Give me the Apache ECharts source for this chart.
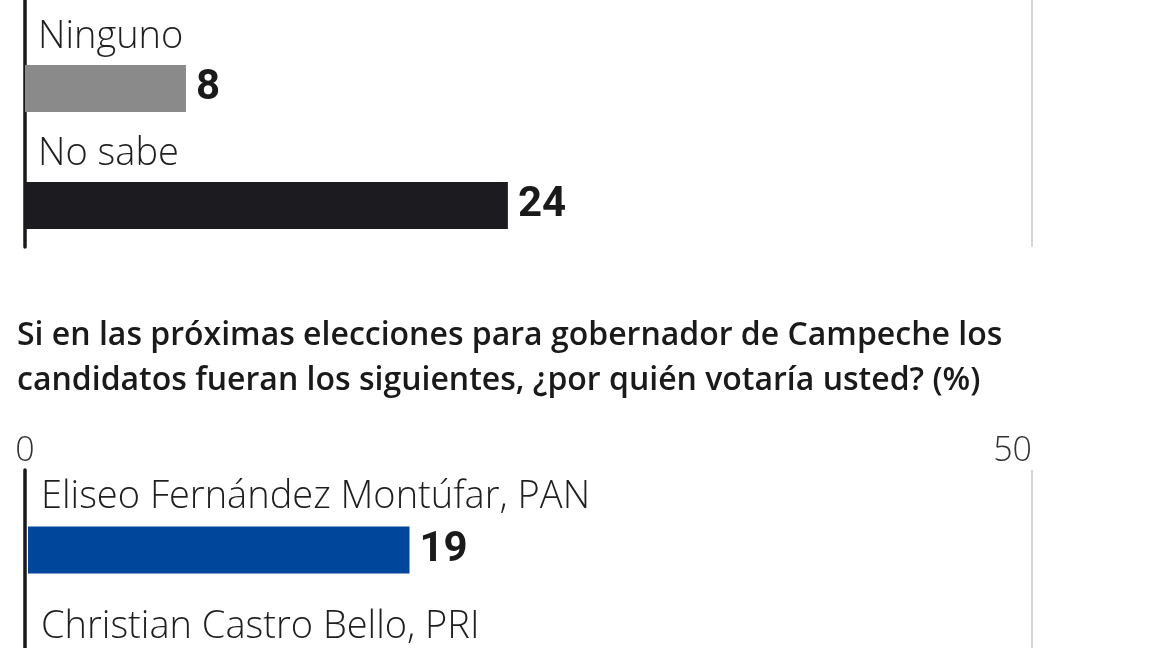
<!DOCTYPE html>
<html>
<head>
<meta charset="utf-8">
<script src="https://cdn.jsdelivr.net/npm/echarts@6/dist/echarts.min.js"></script>
<style>
  html, body { margin: 0; padding: 0; background: #fff; }
  #chart { width: 1152px; height: 648px; }
</style>
</head>
<body>
<div id="chart"></div>
<script>
// datos visibles del recorte
const topCategories = ['Ninguno', 'No sabe'];
const topValues = [8, 24];
const topColors = ['#8a8a8a', '#1c1b1f'];

const titleText = 'Si en las próximas elecciones para gobernador de Campeche los\ncandidatos fueran los siguientes, ¿por quién votaría usted? (%)';

const bottomCategories = ['Eliseo Fernández Montúfar, PAN', 'Christian Castro Bello, PRI'];
const bottomValues = [19, null]; // la segunda barra queda fuera del recorte
const bottomColors = ['#00469a', '#c8102e'];

const axisTicks = [0, 50];

let chart = echarts.init(document.getElementById('chart'));

const labelFont = "'Open Sans', 'DejaVu Sans', sans-serif";
const valueFont = "'Roboto', sans-serif";

// etiqueta de categoría por encima de la barra
function catLabel(offset) {
  return {
    inside: true,
    interval: 0,
    margin: 13,
    color: '#1f1f1f',
    fontFamily: labelFont,
    fontWeight: 300,
    fontSize: 38,
    lineHeight: offset * 2,
    verticalAlign: 'bottom',
  };
}

function valueLabel() {
  return {
    show: true,
    position: 'right',
    distance: 10,
    color: '#1a1a1a',
    fontFamily: valueFont,
    fontWeight: 'bold',
    fontSize: 42,
  };
}

function frameX(gridIndex, showLabels) {
  return {
    type: 'value',
    gridIndex: gridIndex,
    position: 'top',
    min: axisTicks[0],
    max: axisTicks[axisTicks.length - 1],
    interval: 50,
    axisLine: { show: false },
    axisTick: { show: false },
    axisLabel: {
      show: showLabels,
      margin: 2,
      color: '#333',
      fontFamily: labelFont,
      fontWeight: 300,
      fontSize: 34,
      alignMinLabel: 'center',
      alignMaxLabel: 'right',
    },
    splitLine: {
      show: true,
      lineStyle: { color: ['rgba(0,0,0,0)', '#d6d6d6'], width: 2 },
    },
  };
}

function frameY(gridIndex) {
  return {
    type: 'value',
    gridIndex: gridIndex,
    axisLine: { show: true, onZero: false, lineStyle: { color: '#1a1a1a', width: 3.5 } },
    axisTick: { show: false },
    axisLabel: { show: false },
    splitLine: { show: false },
  };
}

function dataX(gridIndex) {
  return {
    type: 'value',
    gridIndex: gridIndex,
    min: axisTicks[0],
    max: axisTicks[axisTicks.length - 1],
    show: false,
  };
}

function dataY(gridIndex, cats, offset) {
  return {
    type: 'category',
    gridIndex: gridIndex,
    inverse: true,
    data: cats,
    axisLine: { show: false },
    axisTick: { show: false },
    splitLine: { show: false },
    axisLabel: catLabel(offset),
  };
}

let option = {
  backgroundColor: '#fff',
  animation: false,
  title: {
    text: titleText,
    left: 17,
    top: 313,
    padding: 0,
    textStyle: {
      color: '#1a1a1a',
      fontFamily: labelFont,
      fontWeight: 600,
      fontSize: 32,
      lineHeight: 45,
    },
  },
  grid: [
    { left: 25, top: 0, width: 1007, height: 247, outerBoundsMode: 'none' },
    { left: 25, top: 30, width: 1006, height: 234, outerBoundsMode: 'none' },
    { left: 25, top: 470, width: 1007, height: 400, outerBoundsMode: 'none' },
    { left: 28, top: 485, width: 1004, height: 260, outerBoundsMode: 'none' },
  ],
  xAxis: [frameX(0, false), dataX(1), frameX(2, true), dataX(3)],
  yAxis: [frameY(0), dataY(1, topCategories, 51), frameY(2), dataY(3, bottomCategories, 53)],
  series: [
    {
      type: 'bar',
      xAxisIndex: 1,
      yAxisIndex: 1,
      barWidth: 47,
      data: topValues.map((v, i) => ({ value: v, itemStyle: { color: topColors[i] } })),
      label: valueLabel(),
    },
    {
      type: 'bar',
      xAxisIndex: 3,
      yAxisIndex: 3,
      barWidth: 47,
      data: bottomValues.map((v, i) => ({ value: v, itemStyle: { color: bottomColors[i] } })),
      label: valueLabel(),
    },
  ],
};

chart.setOption(option);
</script>
</body>
</html>
